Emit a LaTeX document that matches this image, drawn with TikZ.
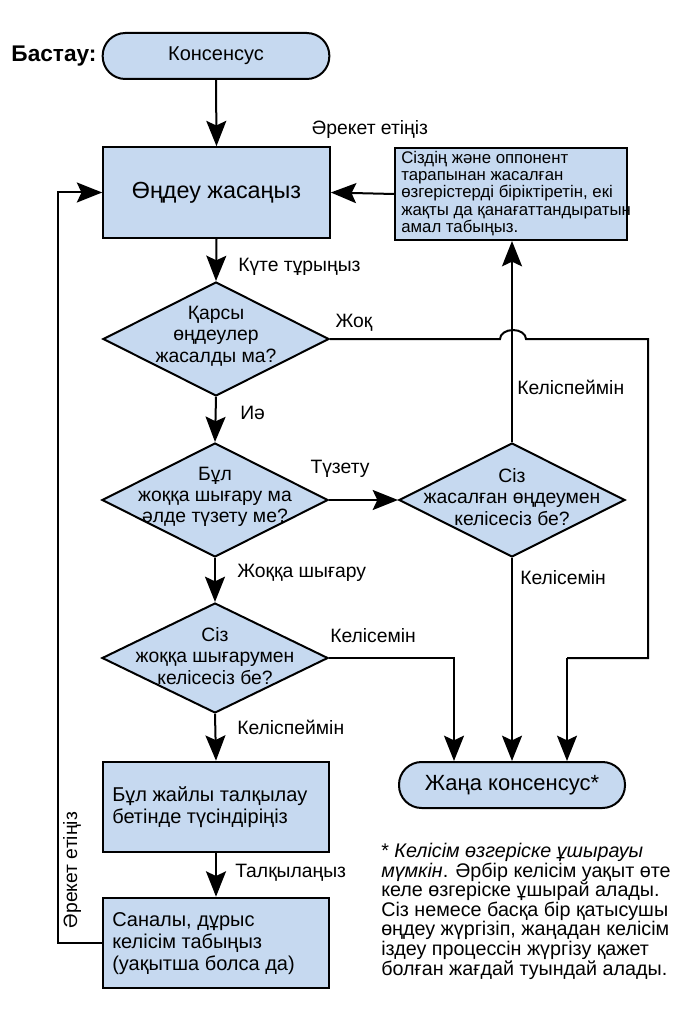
\documentclass[tikz,border=0pt]{standalone}
\usepackage{fontspec}
\setmainfont{Liberation Sans}
\usetikzlibrary{arrows.meta,shapes.geometric,calc}
\definecolor{boxfill}{RGB}{198,217,240}
\begin{document}
\begin{tikzpicture}[x=0.75pt,y=-0.75pt,
  every node/.style={font=\fontsize{14.5}{16}\selectfont},
  flow/.style={draw=black,line width=1.5pt,fill=boxfill,inner sep=0pt},
  termbox/.style={flow,rectangle,rounded corners=17pt,minimum width=170pt,minimum height=34.5pt},
  procbox/.style={flow,rectangle,minimum width=170pt,minimum height=68pt},
  decbox/.style={flow,diamond,minimum width=169.5pt,minimum height=85.5pt},
  conn/.style={line width=1.5pt,-{Stealth[length=19pt,width=15pt,inset=3.5pt]}},
  wire/.style={line width=1.5pt},
  lbl/.style={inner sep=0pt}
]
\useasboundingbox (0,0) rectangle (682,1023);
\fill[white] (0,0) rectangle (682,1023);

% nodes
\node[termbox,font=\fontsize{15}{16}\selectfont] (start) at (216,56) {Консенсус};
\node[lbl,font=\fontsize{17}{18}\selectfont\bfseries] (bastau) at (54,56) {Бастау:};
\node[procbox,font=\fontsize{17.5}{19}\selectfont] (edit) at (216.5,192.5) {Өңдеу жасаңыз};
\node[flow,rectangle,minimum width=174pt,minimum height=69pt] (comp) at (511,194) {};
\node[lbl,anchor=north west,align=left,font=\fontsize{12.6}{12.9}\selectfont] (comptext) at (401,151)
  {Сіздің және оппонент\\тарапынан жасалған\\өзгерістерді біріктіретін, екі\\жақты да қанағаттандыратын\\амал табыңыз.};
\node[decbox] (d1) at (216,339) {};
\node[lbl,align=center] (d1t) at (216,336) {Қарсы\\өңдеулер\\жасалды ма?};
\node[decbox] (d2) at (215,500) {};
\node[lbl,align=center] (d2t) at (215,497) {Бұл\\жоққа шығару ма\\әлде түзету ме?};
\node[decbox] (dr) at (512,500) {};
\node[lbl,align=center] (drt) at (512,497) {Сіз\\жасалған өңдеумен\\келісесіз бе?};
\node[decbox,minimum height=82.5pt] (d3) at (215,658) {};
\node[lbl,align=center] (d3t) at (215,656) {Сіз\\жоққа шығарумен\\келісесіз бе?};
\node[termbox,minimum width=169.5pt,font=\fontsize{16.5}{18}\selectfont] (new) at (512,785) {Жаңа консенсус*};
\node[procbox] (talk) at (216,807) {};
\node[lbl,anchor=north west,align=left,font=\fontsize{15}{16.5}\selectfont] (talkt) at (112,786) {Бұл жайлы талқылау\\бетінде түсіндіріңіз};
\node[procbox] (agree) at (216,943) {};
\node[lbl,anchor=west,align=left,font=\fontsize{15}{16.5}\selectfont] (agreet) at (112,944) {Саналы, дұрыс\\келісім табыңыз\\(уақытша болса да)};

% labels
\node[lbl] (l1) at (370,130) {Әрекет етіңіз};
\node[lbl,anchor=west] (l2) at (238,267) {Күте тұрыңыз};
\node[lbl] (l3) at (354,323) {Жоқ};
\node[lbl,anchor=west] (l4) at (240,413) {Иә};
\node[lbl] (l5) at (340,469) {Түзету};
\node[lbl,anchor=west] (l6) at (517,387) {Келіспеймін};
\node[lbl,anchor=west] (l7) at (237,573) {Жоққа шығару};
\node[lbl,anchor=west] (l8) at (520,578) {Келісемін};
\node[lbl,anchor=west] (l9) at (330,636) {Келісемін};
\node[lbl,anchor=west] (l10) at (237,727) {Келіспеймін};
\node[lbl,anchor=west] (l11) at (235,873) {Талқылаңыз};
\node[lbl,rotate=90] (l12) at (72,870) {Әрекет етіңіз};

\node[lbl,anchor=north west,align=left,font=\fontsize{14.8}{14.7}\selectfont] (note) at (381,843)
  {* \textit{Келісім өзгеріске ұшырауы}\\\textit{мүмкін}. Әрбір келісім уақыт өте\\келе өзгеріске ұшырай алады.\\Сіз немесе басқа бір қатысушы\\өңдеу жүргізіп, жаңадан келісім\\іздеу процессін жүргізу қажет\\болған жағдай туындай алады.};

% coordinates
\coordinate (jA) at (500,339);
\coordinate (rt) at (648,339);
\coordinate (rb) at (648,658);
\coordinate (rc) at (567,658);
\coordinate (mc) at (454,658);
\coordinate (lb) at (58,943);

% connectors
\draw[conn] (start.south) -- (edit.north);
\draw[conn] (comp.west) -- (edit.east);
\draw[conn] (edit.south) -- (d1.north);
\draw[conn] (d1.south) -- (d2.north);
\draw[conn] (d2.east) -- (dr.west);
\draw[conn] (dr.north) -- (dr.north |- comp.south);
\draw[conn] (d2.south) -- (d3.north);
\draw[conn] (d3.south) -- (talk.north);
\draw[conn] (talk.south) -- (agree.north);
\draw[conn] (dr.south) -- (new.north);
\draw[conn] (d3.east) -- (mc) -- (mc |- new.north);
\draw[wire] (d1.east) -- (jA) arc[start angle=180,end angle=360,x radius=13,y radius=9] -- (rt) -- (rb) -- (rc);
\draw[conn] (rc) -- (rc |- new.north);
\draw[conn] (agree.west) -- (lb) |- (edit.west);
\end{tikzpicture}
\end{document}
